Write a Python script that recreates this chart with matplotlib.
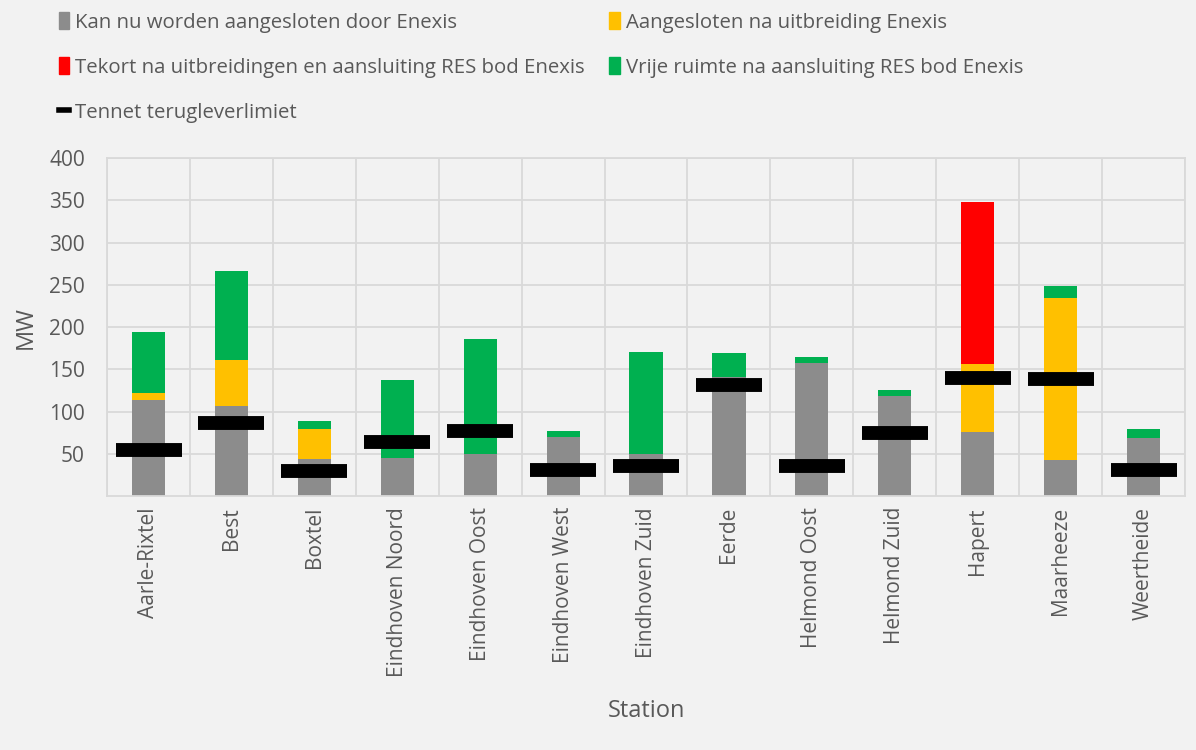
import matplotlib.pyplot as plt
import numpy as np
from matplotlib.patches import Patch
from matplotlib.lines import Line2D

stations = ["Aarle-Rixtel", "Best", "Boxtel", "Eindhoven Noord", "Eindhoven Oost",
            "Eindhoven West", "Eindhoven Zuid", "Eerde", "Helmond Oost", "Helmond Zuid",
            "Hapert", "Maarheeze", "Weertheide"]
nu_aansluitbaar = [114, 106, 44, 45, 50, 70, 50, 141, 158, 118, 76, 43, 69]
na_uitbreiding = [8, 55, 35, 0, 0, 0, 0, 0, 0, 0, 80, 191, 0]
tekort = [0, 0, 0, 0, 0, 0, 0, 0, 0, 0, 192, 0, 0]
vrije_ruimte = [72, 106, 10, 92, 136, 7, 121, 28, 7, 7, 0, 15, 10]
tennet_limiet = [54, 86, 30, 64, 77, 31, 36, 131, 35, 74, 140, 139, 31]

bg = '#f2f2f2'
txt = '#595959'
gridc = '#d9d9d9'
c_grey, c_yellow, c_red, c_green = '#8c8c8c', '#ffc000', '#ff0000', '#00b050'

plt.rcParams['font.family'] = ['Open Sans', 'DejaVu Sans']

fig = plt.figure(figsize=(11.96, 7.5), dpi=100, facecolor=bg)
ax = fig.add_axes([0.0895, 0.3387, 0.9013, 0.4503], facecolor=bg)

x = np.arange(len(stations))
w = 0.4
b1 = np.array(nu_aansluitbaar)
b2 = b1 + np.array(na_uitbreiding)
b3 = b2 + np.array(tekort)
ax.bar(x, nu_aansluitbaar, w, color=c_grey, zorder=2)
ax.bar(x, na_uitbreiding, w, bottom=b1, color=c_yellow, zorder=2)
ax.bar(x, tekort, w, bottom=b2, color=c_red, zorder=2)
ax.bar(x, vrije_ruimte, w, bottom=b3, color=c_green, zorder=2)
ax.plot(x, tennet_limiet, linestyle='none', marker='_', markersize=48,
        markeredgewidth=10, color='black', zorder=3)

ax.set_xlim(-0.5, len(stations) - 0.5)
ax.set_ylim(0, 400)
ax.set_yticks(np.arange(50, 401, 50))
ax.set_xticks(x)
ax.set_xticklabels(stations, rotation=90)
ax.set_xticks(np.arange(-0.5, len(stations), 1), minor=True)
ax.tick_params(axis='both', which='both', length=0, colors=txt, labelsize=15)
ax.tick_params(axis='x', pad=8)
ax.tick_params(axis='y', pad=16)
ax.grid(True, axis='y', which='major', color=gridc, linewidth=1.3, zorder=0)
ax.grid(True, axis='x', which='minor', color=gridc, linewidth=1.3, zorder=0)
for s in ax.spines.values():
    s.set_color(gridc)
    s.set_linewidth(1.3)

ax.set_ylabel('MW', color=txt, fontsize=17, labelpad=8)
ax.set_xlabel('Station', color=txt, fontsize=17, labelpad=16)

handles = [Patch(color=c_grey), Patch(color=c_red),
           Line2D([0], [0], color='black', linewidth=4),
           Patch(color=c_yellow), Patch(color=c_green)]
labels = ["Kan nu worden aangesloten door Enexis",
          "Tekort na uitbreidingen en aansluiting RES bod Enexis",
          "Tennet terugleverlimiet",
          "Aangesloten na uitbreiding Enexis",
          "Vrije ruimte na aansluiting RES bod Enexis"]
fig.legend(handles, labels, ncol=2, loc='upper left', bbox_to_anchor=(0.034, 1.008),
           frameon=False, fontsize=14.7, labelcolor=txt, handlelength=0.5,
           handleheight=0.9, handletextpad=0.3, columnspacing=1.2,
           labelspacing=1.2)

fig.savefig('out.png', dpi=100, facecolor=bg)
